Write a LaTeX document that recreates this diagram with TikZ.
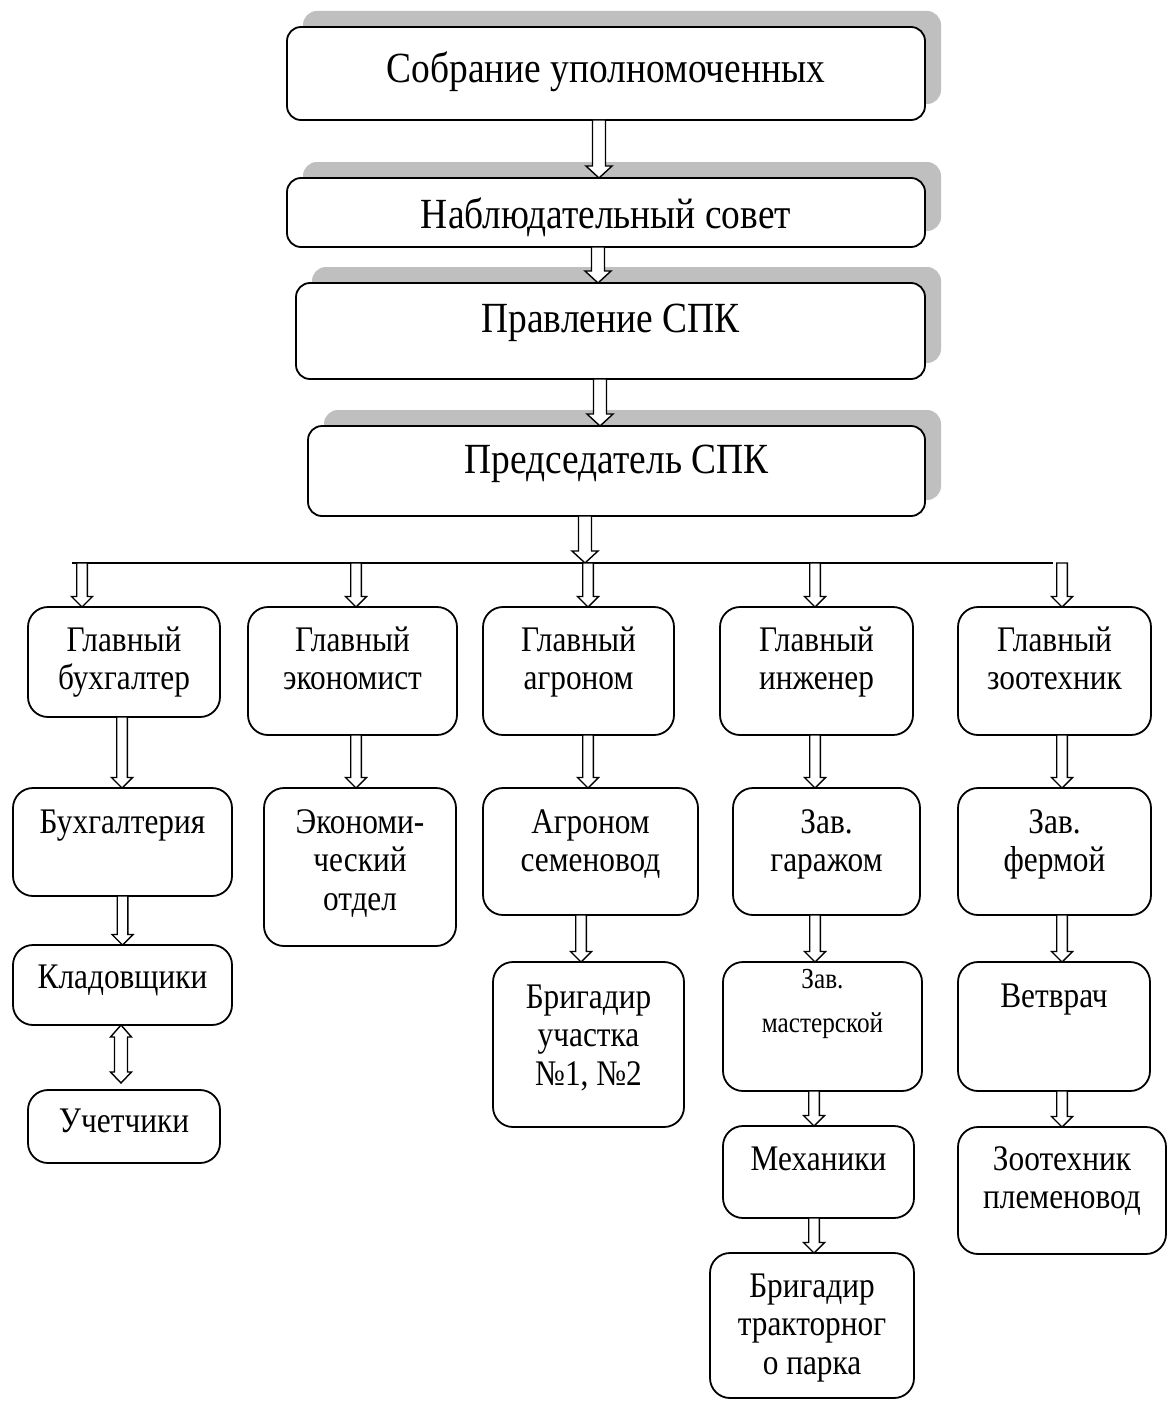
\documentclass[tikz,border=0pt]{standalone}
\usepackage{fontspec}
\setmainfont{Liberation Serif}[FakeStretch=0.87]
\usetikzlibrary{calc,shadows}
\definecolor{shgray}{HTML}{BFBFBF}
\newcommand\bx[7]{\node[#1] (#2) at (#3,#4) {\parbox[c][#6pt][t]{#5pt}{\centering #7}};}
\newcommand\blk[5]{\draw[arr] let \p1=#4, \p2=#5 in (\x1-#1pt,\y1) -- (\x1-#1pt,\y2+#3pt) -- (\x1-#2pt,\y2+#3pt) -- (\x1,\y2) -- (\x1+#2pt,\y2+#3pt) -- (\x1+#1pt,\y2+#3pt) -- (\x1+#1pt,\y1) -- cycle;}
\newcommand\bigarr[2]{\blk{6.5}{13}{12}{#1}{#2}}
\newcommand\smarr[2]{\blk{5.3}{10.5}{10.5}{#1}{#2}}
\tikzset{
  box/.style={draw, line width=1.8pt, fill=white, rounded corners=20pt, inner sep=0pt, outer sep=0pt, anchor=north west, font=\fontsize{36}{38.5}\selectfont},
  topbox/.style={box, rounded corners=14pt, font=\fontsize{43}{48}\selectfont,
    general shadow={fill=shgray, draw=none, shadow xshift=16pt, shadow yshift=16pt}},
  smallbox/.style={box, font=\fontsize{29}{44}\selectfont},
  arr/.style={draw=black, fill=white, line width=1.4pt, line join=miter},
  busline/.style={line width=1.4pt}
}
\begin{document}
\begin{tikzpicture}[x=1pt,y=-1pt]
\useasboundingbox (0,0) rectangle (1168,1402);
\fill[white] (0,0) rectangle (1168,1402);
% top boxes
\bx{topbox}{s1}{287}{27}{638}{93}{\rule{0pt}{56pt}Собрание уполномоченных}
\bx{topbox}{s2}{287}{178}{638}{69}{\rule{0pt}{50pt}Наблюдательный совет}
\bx{topbox}{s3}{296}{283}{629}{96}{\rule{0pt}{49pt}Правление СПК}
\bx{topbox}{s4}{308}{426}{617}{90}{\rule{0pt}{47pt}Председатель СПК}
% row 1
\bx{box}{g1}{28}{607}{192}{110}{\rule{0pt}{44pt}Главный\\бухгалтер}
\bx{box}{g2}{248}{607}{209}{128}{\rule{0pt}{44pt}Главный\\экономист}
\bx{box}{g3}{483}{607}{191}{128}{\rule{0pt}{44pt}Главный\\агроном}
\bx{box}{g4}{720}{607}{193}{128}{\rule{0pt}{44pt}Главный\\инженер}
\bx{box}{g5}{958}{607}{193}{128}{\rule{0pt}{44pt}Главный\\зоотехник}
% row 2
\bx{box}{r1}{13}{788}{219}{108}{\rule{0pt}{45pt}Бухгалтерия}
\bx{box}{r2}{264}{788}{192}{158}{\rule{0pt}{45pt}Экономи-\\ческий\\отдел}
\bx{box}{r3}{483}{788}{215}{127}{\rule{0pt}{45pt}Агроном\\семеновод}
\bx{box}{r4}{733}{788}{187}{127}{\rule{0pt}{45pt}Зав.\\гаражом}
\bx{box}{r5}{958}{788}{193}{127}{\rule{0pt}{45pt}Зав.\\фермой}
% lower
\bx{box}{k}{13}{945}{219}{80}{\rule{0pt}{43pt}Кладовщики}
\bx{box}{u}{28}{1090}{192}{73}{\rule{0pt}{42pt}Учетчики}
\bx{box}{bu}{493}{962}{191}{165}{\rule{0pt}{46pt}Бригадир\\участка\\№1, №2}
\bx{smallbox}{zm}{723}{962}{199}{129}{\rule{0pt}{26pt}Зав.\\мастерской}
\bx{box}{me}{723}{1126}{191}{92}{\rule{0pt}{44pt}Механики}
\bx{box}{bt}{710}{1253}{204}{145}{\rule{0pt}{44pt}Бригадир\\тракторног\\о парка}
\bx{box}{vv}{958}{962}{192}{129}{\rule{0pt}{45pt}Ветврач}
\bx{box}{zp}{958}{1127}{208}{127}{\rule{0pt}{43pt}Зоотехник\\племеновод}
% bus
\coordinate (busL) at (72,563);
\coordinate (busR) at (1053,563);
\coordinate (busA) at (585,563);
\coordinate (b1) at (82,563);
\coordinate (b2) at (356,563);
\coordinate (b3) at (588,563);
\coordinate (b4) at (815,563);
\coordinate (b5) at (1062,563);
\draw[busline] (busL) -- (busR);
% arrows
\bigarr{([xshift=-7pt]s1.south)}{(s2.north)}
\bigarr{([xshift=-8pt]s2.south)}{(s3.north)}
\bigarr{([xshift=-10.5pt]s3.south)}{(s4.north)}
\bigarr{([xshift=-31.5pt]s4.south)}{(busA)}
\smarr{(b1)}{(g1.north)}
\smarr{(b2)}{(g2.north)}
\smarr{(b3)}{(g3.north)}
\smarr{(b4)}{(g4.north)}
\smarr{(b5)}{(g5.north)}
\smarr{([xshift=-2pt]g1.south)}{(r1.north)}
\smarr{([xshift=3.5pt]g2.south)}{(r2.north)}
\smarr{([xshift=9.5pt]g3.south)}{(r3.north)}
\smarr{([xshift=-1.5pt]g4.south)}{(r4.north)}
\smarr{([xshift=7.5pt]g5.south)}{(r5.north)}
\smarr{(r1.south)}{(k.north)}
\smarr{([xshift=-9.5pt]r3.south)}{(bu.north)}
\smarr{([xshift=-11.5pt]r4.south)}{(zm.north)}
\smarr{([xshift=7.5pt]r5.south)}{(vv.north)}
\smarr{([xshift=-8.5pt]zm.south)}{(me.north)}
\smarr{([xshift=-4.5pt]me.south)}{(bt.north)}
\smarr{([xshift=8pt]vv.south)}{(zp.north)}
% double arrow
\draw[arr] let \p1=([xshift=-1.5pt]k.south), \p2=([yshift=7pt]u.north) in
  (\x1,\y1) -- (\x1+10.5pt,\y1-12pt) -- (\x1+6.5pt,\y1-12pt) -- (\x1+6.5pt,\y2+11pt)
  -- (\x1+10.5pt,\y2+11pt) -- (\x1,\y2) -- (\x1-10.5pt,\y2+11pt) -- (\x1-6.5pt,\y2+11pt)
  -- (\x1-6.5pt,\y1-12pt) -- (\x1-10.5pt,\y1-12pt) -- cycle;
\end{tikzpicture}
\end{document}
